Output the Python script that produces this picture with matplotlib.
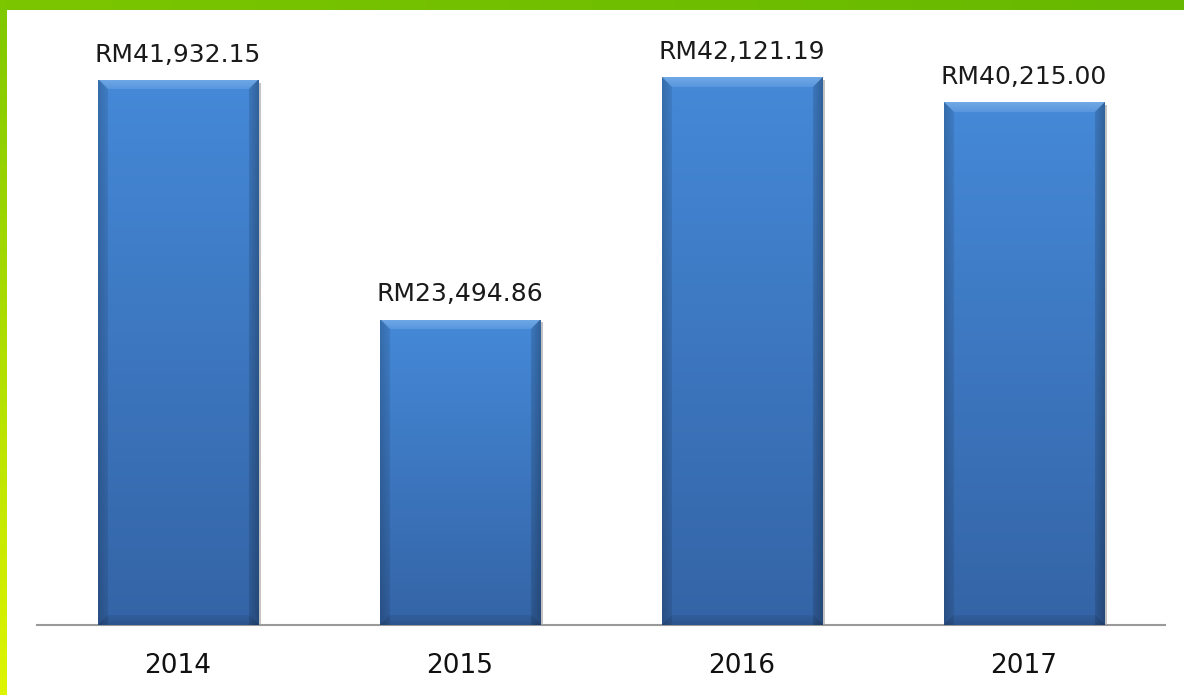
import numpy as np
import matplotlib.pyplot as plt
import matplotlib.patheffects as pe
from matplotlib.colors import to_rgb

# Data
years = ["2014", "2015", "2016", "2017"]
amounts = [41932.15, 23494.86, 42121.19, 40215.00]
labels = ["RM41,932.15", "RM23,494.86", "RM42,121.19", "RM40,215.00"]

W, H = 1184, 695
fig = plt.figure(figsize=(W / 100, H / 100), dpi=100)
fig.patch.set_facecolor("white")

# green frame: top band and left band (gradient)
top = fig.add_axes([0, 1 - 10 / H, 1, 10 / H])
tb = np.linspace(0, 1, 200)[None, :, None]
c0, c1 = np.array(to_rgb("#7cc600")), np.array(to_rgb("#66b800"))
top.imshow(c0 * (1 - tb) + c1 * tb, aspect="auto", extent=[0, 1, 0, 1])
top.set_axis_off()

left = fig.add_axes([0, 0, 7 / W, 1 - 10 / H])
lb = np.linspace(0, 1, 200)[:, None, None]
c0, c1 = np.array(to_rgb("#80c800")), np.array(to_rgb("#def500"))
left.imshow(c0 * (1 - lb) + c1 * lb, aspect="auto", extent=[0, 1, 0, 1])
left.set_axis_off()

# main chart
ax = fig.add_axes([37 / W, 70 / H, (1165 - 37) / W, (625 - 12) / H])
ax.set_xlim(-0.5, 3.5)
ax.set_ylim(0, 47150)
x = np.arange(len(years))
bw = 0.57
bars = ax.bar(x, amounts, width=bw, color="#3d78c4", zorder=2,
              path_effects=[pe.SimplePatchShadow(offset=(2, -2), alpha=0.35, shadow_rgbFace="#555555"),
                            pe.Normal()])

light = np.array(to_rgb("#4589d8"))
dark = np.array(to_rgb("#3464a6"))
hi = np.array(to_rgb("#8dbdf0"))
fig.canvas.draw()
for b in bars:
    x0, y0 = b.get_x(), b.get_y()
    w, h = b.get_width(), b.get_height()
    p0 = ax.transData.transform((x0, y0))
    p1 = ax.transData.transform((x0 + w, y0 + h))
    nx, ny = max(int(p1[0] - p0[0]), 2), max(int(p1[1] - p0[1]), 2)
    # row 0 = top of the bar
    t = np.linspace(0, 1, ny)[:, None, None]
    img = light * (1 - t) + dark * t
    img = np.repeat(img, nx, axis=1)
    # bevel: top highlight, darker sides and bottom
    bev = 10
    for i in range(bev):
        f = 1 - 0.6 * i / bev
        img[i, i:nx - i] = img[i, i:nx - i] * (1 - 0.6 * f) + hi * 0.6 * f
        img[i:ny, i] = img[i:ny, i] * (1 - 0.2 * f)
        img[i:ny, nx - 1 - i] = img[i:ny, nx - 1 - i] * (1 - 0.28 * f)
        img[ny - 1 - i, i:nx - i] = img[ny - 1 - i, i:nx - i] * (1 - 0.15 * f)
    im = ax.imshow(img, extent=[x0, x0 + w, y0, y0 + h], origin="upper",
                   aspect="auto", zorder=3, interpolation="bilinear")
    im.set_clip_path(b)

ax.set_ylim(0, 47150)
ax.set_xlim(-0.5, 3.5)

for xi, v, lab in zip(x, amounts, labels):
    ax.annotate(lab, (xi, v), xytext=(0, 13), textcoords="offset points",
                ha="center", va="baseline", fontsize=18, color="#1a1a1a")

ax.set_xticks(x)
ax.set_xticklabels(years, fontsize=19, color="#111111")
ax.tick_params(axis="x", length=0, pad=20)
ax.set_yticks([])
for s in ["top", "right", "left"]:
    ax.spines[s].set_visible(False)
ax.spines["bottom"].set_color("#9a9a9a")
ax.spines["bottom"].set_linewidth(1.5)
ax.set_facecolor("none")

fig.savefig("out.png", dpi=100, facecolor="white")
